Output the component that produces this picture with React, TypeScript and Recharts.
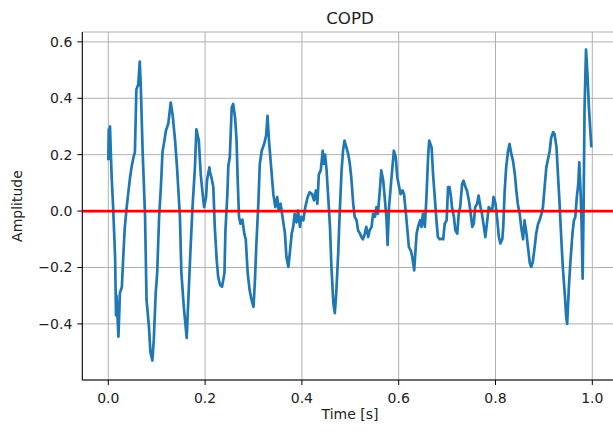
import React from "react";
import { LineChart, Line, XAxis, YAxis, CartesianGrid, ReferenceLine } from "recharts";

const time: number[] = [
  0.000, 0.001, 0.002, 0.0035, 0.005, 0.007, 0.010, 0.014, 0.016, 0.017, 0.021, 0.024, 0.028, 0.031, 0.034, 0.038,
  0.041, 0.045, 0.048, 0.052, 0.055, 0.058, 0.062, 0.065, 0.067, 0.071, 0.076, 0.079, 0.084, 0.087, 0.091, 0.094,
  0.098, 0.101, 0.105, 0.109, 0.112, 0.116, 0.119, 0.124, 0.129, 0.133, 0.138, 0.142, 0.148, 0.151, 0.156, 0.162,
  0.166, 0.170, 0.174, 0.179, 0.182, 0.187, 0.191, 0.195, 0.198, 0.202, 0.204, 0.209,
  0.210, 0.213, 0.217, 0.220, 0.224, 0.227, 0.231, 0.235, 0.240, 0.242, 0.246, 0.248, 0.251, 0.255, 0.258, 0.262,
  0.265, 0.267, 0.270, 0.273, 0.277, 0.281, 0.284, 0.288, 0.292, 0.296, 0.300, 0.303, 0.306, 0.310, 0.313, 0.317,
  0.322, 0.326, 0.329, 0.332, 0.337, 0.341, 0.345, 0.349, 0.352, 0.356, 0.361, 0.365, 0.368, 0.372, 0.375, 0.379,
  0.382, 0.385, 0.389, 0.392, 0.396, 0.399, 0.403, 0.407, 0.412, 0.416, 0.421, 0.425,
  0.429, 0.432, 0.435, 0.439, 0.443, 0.445, 0.448, 0.451, 0.454, 0.458, 0.461, 0.465, 0.468, 0.471, 0.475, 0.478,
  0.482, 0.485, 0.488, 0.492, 0.496, 0.499, 0.502, 0.506, 0.509, 0.513, 0.516, 0.520, 0.523, 0.526, 0.530, 0.533,
  0.537, 0.540, 0.544, 0.547, 0.551, 0.554, 0.557, 0.561, 0.564, 0.568, 0.571, 0.575, 0.577, 0.580, 0.584, 0.587,
  0.590, 0.594, 0.597, 0.601, 0.604, 0.608, 0.611, 0.615, 0.618, 0.621, 0.625, 0.628, 0.632,
  0.637, 0.640, 0.644, 0.647, 0.650, 0.654, 0.657, 0.661, 0.663, 0.668, 0.671, 0.675, 0.678, 0.681, 0.685, 0.688,
  0.692, 0.695, 0.699, 0.702, 0.705, 0.708, 0.710, 0.714, 0.717, 0.721, 0.724, 0.727, 0.731, 0.734, 0.738, 0.741,
  0.745, 0.748, 0.752, 0.755, 0.758, 0.762, 0.765, 0.769, 0.772, 0.776, 0.779, 0.783, 0.786, 0.789, 0.793, 0.796,
  0.800, 0.803, 0.807, 0.810, 0.814, 0.816, 0.819, 0.822, 0.826, 0.829, 0.833, 0.836, 0.840, 0.843, 0.846, 0.850,
  0.853, 0.857,
  0.860, 0.864, 0.867, 0.871, 0.874, 0.877, 0.881, 0.884, 0.888, 0.891, 0.895, 0.898, 0.902, 0.905, 0.908, 0.912,
  0.915, 0.919, 0.922, 0.926, 0.929, 0.932, 0.936, 0.939, 0.943, 0.946, 0.948, 0.952, 0.955, 0.959, 0.962, 0.965,
  0.968, 0.971, 0.973, 0.976, 0.978, 0.980, 0.982, 0.984, 0.987, 0.990, 0.993, 0.998,
];

const amplitude: number[] = [
  0.18, 0.29, 0.26, 0.30, 0.22, 0.12, 0.014, -0.16, -0.37, -0.30, -0.445, -0.29, -0.27, -0.16, -0.06, 0.014,
  0.06, 0.12, 0.155, 0.19, 0.21, 0.43, 0.45, 0.53, 0.45, 0.21, -0.02, -0.315, -0.41, -0.50, -0.53, -0.456,
  -0.29, -0.22, -0.02, 0.096, 0.21, 0.25, 0.285, 0.31, 0.385, 0.34, 0.25, 0.155, -0.02, -0.22, -0.34, -0.45,
  -0.29, -0.13, 0.014, 0.155, 0.29, 0.25, 0.13, 0.06, 0.014, 0.05, 0.11, 0.155,
  0.138, 0.12, 0.085, -0.056, -0.174, -0.233, -0.262, -0.268, -0.22, -0.07, 0.06, 0.16, 0.19, 0.367, 0.38, 0.33,
  0.25, 0.13, -0.02, -0.045, -0.03, -0.08, -0.10, -0.22, -0.28, -0.315, -0.34, -0.245, -0.115, 0.026, 0.167, 0.214,
  0.238, 0.267, 0.338, 0.25, 0.144, 0.06, 0.014, 0.05, 0.002, 0.026, -0.033, -0.08, -0.162, -0.198, -0.15, -0.08,
  -0.056, -0.01, -0.04, 0.002, -0.056, -0.02, -0.033, 0.014, 0.05, 0.067, 0.06, 0.038,
  0.073, 0.026, 0.13, 0.144, 0.214, 0.167, 0.20, 0.144, 0.06, -0.056, -0.198, -0.327, -0.362, -0.29, -0.15, -0.01,
  0.144, 0.214, 0.25, 0.226, 0.20, 0.167, 0.12, 0.026, -0.02, -0.033, -0.068, -0.08, -0.092, -0.10, -0.08, -0.056,
  -0.092, -0.068, -0.056, -0.01, -0.02, 0.014, -0.01, 0.073, 0.144, 0.108, 0.05, -0.033, -0.12, 0.014, 0.096, 0.155,
  0.214, 0.19, 0.12, 0.085, 0.06, 0.073, 0.06, -0.01, -0.068, -0.127, -0.14, -0.162, -0.21,
  -0.08, -0.056, -0.033, -0.056, -0.01, -0.056, 0.038, 0.20, 0.25, 0.226, 0.13, 0.038, -0.033, -0.092, -0.10, -0.098,
  -0.10, -0.045, -0.033, 0.085, 0.085, 0.05, 0.014, -0.02, -0.068, -0.08, -0.01, 0.014, 0.096, 0.108, 0.085, 0.073,
  0.038, 0.002, -0.056, -0.045, 0.014, 0.026, 0.055, 0.014, -0.01, -0.056, -0.092, -0.033, 0.014, 0.008, 0.002, 0.05,
  0.026, -0.02, -0.092, -0.115, -0.10, -0.056, 0.073, 0.155, 0.214, 0.238, 0.20, 0.18, 0.13, 0.073, 0.026, -0.01,
  -0.056, -0.10,
  -0.033, -0.08, -0.127, -0.186, -0.198, -0.18, -0.127, -0.08, -0.045, -0.033, -0.01, 0.014, 0.096, 0.155, 0.18, 0.214,
  0.26, 0.28, 0.273, 0.226, 0.13, 0.038, -0.10, -0.198, -0.29, -0.374, -0.40, -0.256, -0.174, -0.08, -0.033, -0.02,
  0.05, 0.096, 0.173, 0.06, -0.056, -0.24, 0.014, 0.367, 0.573, 0.485, 0.367, 0.226,
];

const xTicks: number[] = [0, 0.2, 0.4, 0.6, 0.8, 1.0];
const yTicks: number[] = [-0.4, -0.2, 0, 0.2, 0.4, 0.6];

const titleText = "COPD";
const xLabel = "Time [s]";
const yLabel = "Amplitude";

const data = time.map((t, i) => ({ t, v: amplitude[i] }));

const FONT = "'DejaVu Sans', sans-serif";
const TXT = "#222";

const fmt = (v: number) => {
  const s = Math.abs(v).toFixed(1);
  return v < -1e-9 ? "\u2212" + s : s;
};

export default function App() {
  return (
    <div
      style={{
        position: "absolute",
        left: 0,
        top: 0,
        width: 613,
        height: 434,
        overflow: "hidden",
        background: "#fff",
      }}
    >
      <LineChart
        width={640}
        height={434}
        data={data}
        margin={{ top: 32, right: 21.7, bottom: 0, left: 0.3 }}
      >
        <CartesianGrid stroke="#b0b0b0" strokeWidth={1} />
        <XAxis
          dataKey="t"
          type="number"
          domain={[-0.0537, 1.0537]}
          ticks={xTicks}
          tickFormatter={fmt}
          height={54}
          allowDataOverflow
          axisLine={{ stroke: "#000", strokeWidth: 1 }}
          tickLine={{ stroke: "#000", strokeWidth: 1 }}
          tickSize={5}
          tickMargin={8}
          tick={{ fill: TXT, fontSize: 14, fontFamily: FONT }}
        />
        <XAxis
          xAxisId="top"
          dataKey="t"
          type="number"
          orientation="top"
          domain={[-0.0537, 1.0537]}
          ticks={xTicks}
          height={0}
          tick={false}
          tickLine={false}
          axisLine={{ stroke: "#000", strokeWidth: 1 }}
        />
        <YAxis
          type="number"
          domain={[-0.599, 0.635]}
          ticks={yTicks}
          tickFormatter={fmt}
          width={82}
          allowDataOverflow
          axisLine={{ stroke: "#000", strokeWidth: 1 }}
          tickLine={{ stroke: "#000", strokeWidth: 1 }}
          tickSize={5}
          tickMargin={5}
          tick={{ fill: TXT, fontSize: 14, fontFamily: FONT }}
        />
        <Line
          type="linear"
          dataKey="v"
          stroke="#1f77b4"
          strokeWidth={2.7}
          strokeLinejoin="round"
          dot={false}
          isAnimationActive={false}
        />
        <ReferenceLine y={0} stroke="#ff0000" strokeWidth={2.8} />
      </LineChart>
      <svg
        width={613}
        height={434}
        style={{ position: "absolute", left: 0, top: 0, pointerEvents: "none" }}
      >
        <text x={350} y={24} textAnchor="middle" fontSize={16.7} fontFamily={FONT} fill={TXT}>
          {titleText}
        </text>
        <text x={350} y={419} textAnchor="middle" fontSize={14} fontFamily={FONT} fill={TXT}>
          {xLabel}
        </text>
        <text
          x={0}
          y={0}
          transform="translate(22,206) rotate(-90)"
          textAnchor="middle"
          fontSize={14}
          fontFamily={FONT}
          fill={TXT}
        >
          {yLabel}
        </text>
      </svg>
    </div>
  );
}
